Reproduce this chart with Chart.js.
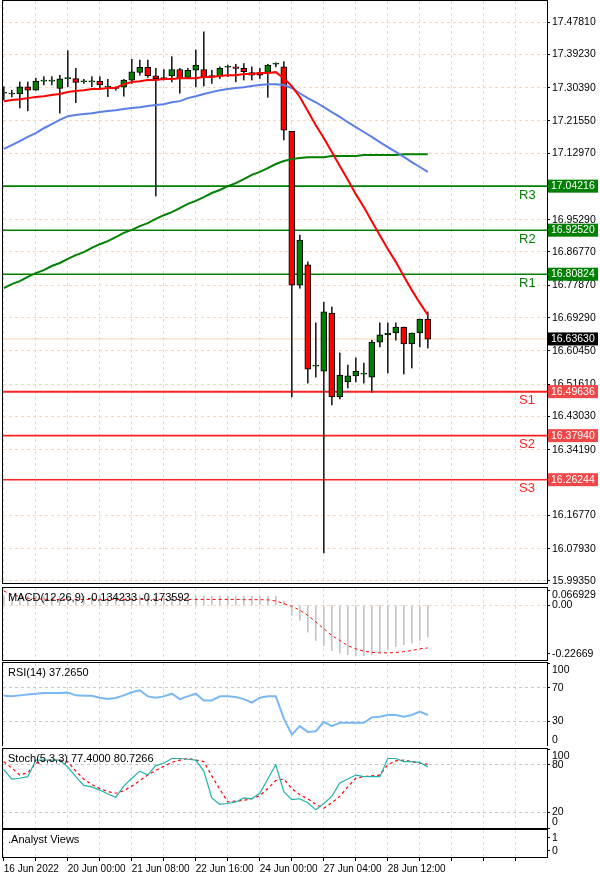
<!DOCTYPE html>
<html>
<head>
<meta charset="utf-8">
<script src="https://cdn.jsdelivr.net/npm/chart.js@4.4.1/dist/chart.umd.min.js"></script>
<style>
  body { margin: 0; background: #fff; }
  #wrap { position: relative; width: 600px; height: 878px; overflow: hidden; }
  canvas { position: absolute; left: 0; }
</style>
</head>
<body>
<div id="wrap">
  <canvas id="main" width="600" height="585" style="top:0"></canvas>
  <canvas id="macd" width="600" height="74" style="top:587px"></canvas>
  <canvas id="rsi" width="600" height="85" style="top:661px"></canvas>
  <canvas id="stoch" width="600" height="82" style="top:747px"></canvas>
  <canvas id="analyst" width="600" height="49" style="top:829px"></canvas>
</div>
<script>
// --- DATA ---
const opens  = [17.289,17.287,17.287,17.306,17.297,17.321,17.321,17.302,17.328,17.328,17.319,17.319,17.321,17.305,17.302,17.305,17.324,17.344,17.358,17.335,17.328,17.335,17.352,17.331,17.350,17.352,17.333,17.335,17.358,17.359,17.355,17.344,17.344,17.344,17.366,17.359,17.188,16.779,16.833,16.564,16.551,16.705,16.482,16.522,16.538,16.543,16.535,16.628,16.647,16.652,16.668,16.623,16.652,16.689];
const closes = [17.289,17.287,17.306,17.297,17.321,17.321,17.321,17.327,17.328,17.318,17.319,17.319,17.311,17.305,17.302,17.324,17.346,17.358,17.335,17.328,17.328,17.352,17.328,17.350,17.364,17.333,17.333,17.355,17.358,17.355,17.346,17.337,17.337,17.364,17.366,17.191,16.779,16.899,16.556,16.564,16.708,16.482,16.540,16.538,16.551,16.543,16.628,16.647,16.652,16.668,16.623,16.652,16.689,16.636];
const highs  = [17.306,17.297,17.319,17.319,17.329,17.333,17.333,17.337,17.402,17.355,17.326,17.333,17.333,17.326,17.306,17.326,17.379,17.377,17.377,17.355,17.352,17.386,17.355,17.355,17.404,17.452,17.350,17.359,17.364,17.366,17.368,17.359,17.355,17.366,17.370,17.373,17.188,16.912,16.841,16.679,16.734,16.721,16.599,16.567,16.586,16.572,16.633,16.679,16.679,16.679,16.668,16.652,16.689,16.708];
const lows   = [17.271,17.279,17.250,17.242,17.297,17.311,17.311,17.236,17.306,17.264,17.315,17.306,17.302,17.280,17.297,17.281,17.315,17.337,17.331,17.016,17.324,17.319,17.289,17.328,17.306,17.308,17.315,17.328,17.333,17.319,17.324,17.324,17.328,17.278,17.359,17.165,16.482,16.771,16.519,16.535,16.068,16.461,16.477,16.506,16.522,16.519,16.495,16.615,16.546,16.633,16.543,16.559,16.615,16.612];

const maFast = [17.268,17.271,17.273,17.276,17.279,17.281,17.284,17.287,17.292,17.295,17.297,17.300,17.300,17.303,17.303,17.313,17.319,17.321,17.324,17.324,17.327,17.327,17.329,17.329,17.329,17.332,17.332,17.335,17.337,17.337,17.340,17.340,17.343,17.343,17.345,17.329,17.308,17.279,17.242,17.204,17.170,17.133,17.096,17.059,17.021,16.987,16.949,16.912,16.875,16.841,16.803,16.766,16.732,16.700];
const maMid  = [17.141,17.151,17.162,17.173,17.183,17.196,17.207,17.218,17.228,17.231,17.234,17.236,17.239,17.242,17.244,17.247,17.250,17.252,17.255,17.258,17.260,17.265,17.268,17.276,17.281,17.287,17.292,17.297,17.300,17.303,17.305,17.308,17.311,17.313,17.313,17.311,17.303,17.289,17.276,17.265,17.252,17.239,17.226,17.212,17.199,17.186,17.173,17.159,17.146,17.133,17.120,17.106,17.093,17.080];
const maSlow = [16.771,16.782,16.790,16.801,16.811,16.819,16.830,16.838,16.849,16.859,16.867,16.878,16.888,16.896,16.907,16.918,16.926,16.936,16.944,16.955,16.965,16.973,16.984,16.995,17.003,17.013,17.024,17.032,17.042,17.050,17.061,17.072,17.080,17.090,17.101,17.109,17.114,17.117,17.119,17.119,17.119,17.122,17.122,17.122,17.122,17.125,17.125,17.125,17.125,17.125,17.127,17.127,17.127,17.127];

const levelNames  = ['R3','R2','R1','S1','S2','S3'];
const levelValues = [17.04216,16.92520,16.80824,16.49636,16.37940,16.26244];
const lastPrice = 16.63630;
const priceTicks = [17.47810,17.39230,17.30390,17.21550,17.12970,16.95290,16.86770,16.77870,16.69290,16.60450,16.51610,16.43030,16.34190,16.16770,16.07930,15.99350];

const macdHist = [0.040,0.040,0.041,0.041,0.041,0.042,0.042,0.042,0.042,0.042,0.042,0.043,0.043,0.043,0.043,0.043,0.043,0.044,0.044,0.043,0.043,0.043,0.043,0.043,0.043,0.043,0.042,0.042,0.042,0.042,0.042,0.042,0.042,0.042,0.042,0.020,-0.047,-0.070,-0.125,-0.164,-0.188,-0.212,-0.223,-0.230,-0.235,-0.235,-0.230,-0.219,-0.204,-0.192,-0.183,-0.176,-0.164,-0.148];
const macdSignal = [0.066,0.050,0.040,0.033,0.030,0.028,0.027,0.027,0.027,0.027,0.027,0.027,0.027,0.027,0.027,0.027,0.027,0.027,0.027,0.027,0.027,0.027,0.027,0.027,0.027,0.027,0.027,0.027,0.027,0.027,0.026,0.026,0.026,0.025,0.020,0.008,-0.005,-0.023,-0.047,-0.078,-0.109,-0.141,-0.164,-0.188,-0.203,-0.214,-0.219,-0.222,-0.222,-0.220,-0.216,-0.211,-0.203,-0.199];
const macdTicks = [0.066929, 0, -0.22669];

const rsiValues = [60.6,60,61,62,63,63.9,63.9,63.9,64.3,61,60.6,60.6,58.2,56.5,57.8,61,64.7,67.1,59.8,58.2,59.8,63,56.5,59.8,63,54.9,54.9,59.8,59.8,59,56.5,52.4,58.2,59.8,59.8,33.3,13.7,23.9,17,17.8,29.2,23.9,28,28,28,28,34.5,35.3,37.3,37.3,35.3,37.3,41.4,37.3];
const rsiTicks = [100, 70, 30, 0];

const stochMain = [74,62,63,65,86,86,86,86,77,65,54,52,48,43,39,53,63,72,67,79,82,88,88,87,86,72,38,30,31,33,38,37,44,62,80,46,36,37,32,23,31,40,57,62,67,65,65,65,88,88,84,84,83,77.4];
const stochSignal = [84,76,67,70,82,85,86,86,84,72,62,55,50,46,44,47,53,60,67,73,78,83,86,88,86,84,66,49,33,34,35,37,41,50,60,62,50,42,37,30,25,32,40,52,63,65,66,67,80,85,86,84,82,80.7];
const stochTicks = [100, 80, 20, 0];

const dateLabels = ['16 Jun 2022','20 Jun 00:00','21 Jun 08:00','22 Jun 16:00','24 Jun 00:00','27 Jun 04:00','28 Jun 12:00'];
const BARS_PER_LABEL = 8;
const SLOTS = 68;

const FONT = 'Liberation Sans';
const GRID = '#fbd5b5';

function pts(arr) { return arr.map((v, i) => ({ x: i, y: v })); }

// frame + title text for each panel
function framePlugin(title) {
  return {
    id: 'frame',
    afterDraw(chart) {
      const a = chart.chartArea, ctx = chart.ctx;
      ctx.save();
      ctx.strokeStyle = '#000';
      ctx.lineWidth = 1;
      ctx.strokeRect(a.left - 0.5, a.top - 0.5, a.right - a.left + 1, a.bottom - a.top + 1);
      if (title) {
        ctx.fillStyle = '#000';
        ctx.font = '11px ' + FONT;
        ctx.textBaseline = 'top';
        ctx.fillText(title, a.left + 5, a.top + 4);
      }
      ctx.restore();
    }
  };
}

// sub-panel tick labels, kept inside the panel the way the terminal does
const innerLabels = {
  id: 'innerLabels',
  afterDraw(chart) {
    const y = chart.scales.y, a = chart.chartArea, ctx = chart.ctx;
    const fmt = chart.options.scales.y.ticks.callback;
    ctx.save();
    ctx.fillStyle = '#000';
    ctx.font = '10.5px ' + FONT;
    ctx.textBaseline = 'middle';
    y.ticks.forEach(t => {
      const py = Math.min(Math.max(y.getPixelForValue(t.value), a.top + 7), a.bottom - 6);
      ctx.fillText(fmt(t.value), a.right + 5, py);
    });
    ctx.restore();
  }
};

function noPad(s) { s.paddingTop = 0; s.paddingBottom = 0; s.paddingLeft = 0; s.paddingRight = 0; }

function xScale(bottom) {
  return {
    type: 'linear', min: -0.1, max: SLOTS - 0.1, offset: false,
    afterBuildTicks(s) {
      const t = [];
      for (let i = 0; i < SLOTS; i += 4) t.push({ value: i });
      s.ticks = t;
    },
    afterFit(s) { s.height = bottom ? 21 : 0; noPad(s); },
    grid: { color: GRID, drawTicks: bottom, tickLength: 4, tickColor: '#000', offset: false },
    border: { display: false, dash: [3, 3] },
    ticks: {
      display: bottom, autoSkip: false, maxRotation: 0, align: 'start', padding: 2,
      color: '#000', font: { family: FONT, size: 10 },
      callback(v) {
        const k = v / BARS_PER_LABEL;
        return Number.isInteger(k) && k < dateLabels.length ? dateLabels[k] : '';
      }
    }
  };
}

function yScale(min, max, ticks, fmt, gridColor, inner) {
  return {
    position: 'right', min, max,
    afterBuildTicks(s) { s.ticks = ticks.map(v => ({ value: v })); },
    afterFit(s) { s.width = 53; noPad(s); },
    grid: { color: gridColor, drawTicks: true, tickLength: 3, tickColor: '#000' },
    border: { display: false, dash: [3, 3] },
    ticks: { display: !inner, color: '#000', padding: 2, font: { family: FONT, size: 10.5 }, callback: fmt }
  };
}

const base = (pad) => ({
  responsive: false, animation: false, events: [],
  layout: { padding: { left: 3, right: 0, top: pad[0], bottom: pad[1] } },
  plugins: { legend: { display: false }, tooltip: { enabled: false } }
});

// --- MAIN PRICE PANEL ---
const bodyColors = opens.map((o, i) => closes[i] >= o ? '#008000' : '#ff0000');
const levelDatasets = levelValues.map((v, k) => ({
  type: 'line', data: [{ x: -0.1, y: v }, { x: SLOTS - 0.1, y: v }],
  borderColor: k < 3 ? '#008000' : '#ff2020', borderWidth: k === 3 ? 2 : 1.6,
  pointRadius: 0, order: 6
}));

new Chart(document.getElementById('main'), {
  type: 'bar',
  data: {
    datasets: [
      { type: 'line', data: [{ x: -0.1, y: lastPrice }, { x: SLOTS - 0.1, y: lastPrice }],
        borderColor: '#ffd3b0', borderWidth: 1, pointRadius: 0, order: 7 },
      ...levelDatasets,
      { data: lows.map((l, i) => ({ x: i, y: [l, highs[i]] })), backgroundColor: '#222',
        barThickness: 1, grouped: false, order: 5 },
      { data: opens.map((o, i) => ({ x: i, y: [o, closes[i]] })), backgroundColor: bodyColors,
        borderColor: '#000', borderWidth: 1, borderSkipped: false, minBarLength: 1,
        barThickness: 6, grouped: false, order: 4 },
      { type: 'line', data: pts(maSlow), borderColor: '#008000', borderWidth: 2, pointRadius: 0, order: 3 },
      { type: 'line', data: pts(maMid), borderColor: '#5b7fe6', borderWidth: 2, pointRadius: 0, order: 2 },
      { type: 'line', data: pts(maFast), borderColor: '#ff0000', borderWidth: 2, pointRadius: 0, order: 1 }
    ]
  },
  options: {
    ...base([1, 2]),
    scales: {
      x: xScale(false),
      y: yScale(15.988, 17.534, priceTicks, v => v.toFixed(5), GRID, false)
    }
  },
  plugins: [framePlugin(''), {
    id: 'levelTags',
    afterDraw(chart) {
      const ctx = chart.ctx, y = chart.scales.y, a = chart.chartArea;
      ctx.save();
      ctx.font = '10.5px ' + FONT;
      ctx.textBaseline = 'middle';
      const tag = (v, bg) => {
        const py = y.getPixelForValue(v);
        ctx.fillStyle = bg;
        ctx.fillRect(a.right + 1, py - 6.5, 50, 13);
        ctx.fillStyle = '#fff';
        ctx.fillText(v.toFixed(5), a.right + 4, py);
      };
      levelValues.forEach((v, k) => tag(v, k < 3 ? '#008000' : '#f04848'));
      tag(lastPrice, '#000');
      ctx.font = '13px ' + FONT;
      levelNames.forEach((n, k) => {
        ctx.fillStyle = k < 3 ? '#008000' : '#ff2020';
        ctx.fillText(n, a.right - 28, y.getPixelForValue(levelValues[k]) + 9);
      });
      ctx.restore();
    }
  }]
});

// --- MACD ---
new Chart(document.getElementById('macd'), {
  type: 'bar',
  data: {
    datasets: [
      { data: pts(macdHist), backgroundColor: '#c4c4c4', barThickness: 1, grouped: false, order: 2 },
      { type: 'line', data: pts(macdSignal), borderColor: '#ff0000', borderWidth: 1,
        borderDash: [3, 3], pointRadius: 0, order: 1 }
    ]
  },
  options: {
    ...base([1, 1]),
    scales: {
      x: xScale(false),
      y: yScale(-0.2551, 0.0803, macdTicks, v => v === 0 ? '0.00' : String(v),
        ctx => ctx.tick && ctx.tick.value === 0 ? GRID : 'rgba(0,0,0,0)', true)
    }
  },
  plugins: [framePlugin('MACD(12,26,9) -0.134233 -0.173592'), innerLabels]
});

// --- RSI ---
new Chart(document.getElementById('rsi'), {
  type: 'line',
  data: { datasets: [{ data: pts(rsiValues), borderColor: '#7ab8f5', borderWidth: 2, pointRadius: 0 }] },
  options: {
    ...base([2, 0]),
    scales: {
      x: xScale(false),
      y: yScale(0, 100, rsiTicks, v => String(v),
        ctx => ctx.tick && (ctx.tick.value === 70 || ctx.tick.value === 30) ? '#c8c8c8' : 'rgba(0,0,0,0)', true)
    }
  },
  plugins: [framePlugin('RSI(14) 37.2650'), innerLabels]
});

// --- STOCHASTIC ---
new Chart(document.getElementById('stoch'), {
  type: 'line',
  data: {
    datasets: [
      { data: pts(stochMain), borderColor: '#20b2aa', borderWidth: 1.2, pointRadius: 0 },
      { data: pts(stochSignal), borderColor: '#ff0000', borderWidth: 1.2, borderDash: [3, 3], pointRadius: 0 }
    ]
  },
  options: {
    ...base([2, 1]),
    scales: {
      x: xScale(false),
      y: yScale(0, 100, stochTicks, v => String(v),
        ctx => ctx.tick && (ctx.tick.value === 80 || ctx.tick.value === 20) ? '#c8c8c8' : 'rgba(0,0,0,0)', true)
    }
  },
  plugins: [framePlugin('Stoch(5,3,3) 77.4000 80.7266'), innerLabels]
});

// --- ANALYST VIEWS + date axis ---
new Chart(document.getElementById('analyst'), {
  type: 'line',
  data: { datasets: [{ data: [], borderWidth: 0 }] },
  options: {
    ...base([1, 0]),
    scales: {
      x: xScale(true),
      y: yScale(-0.46, 1.6, [1, 0], v => String(v), 'rgba(0,0,0,0)', true)
    }
  },
  plugins: [framePlugin('.Analyst Views'), innerLabels]
});
</script>
</body>
</html>
